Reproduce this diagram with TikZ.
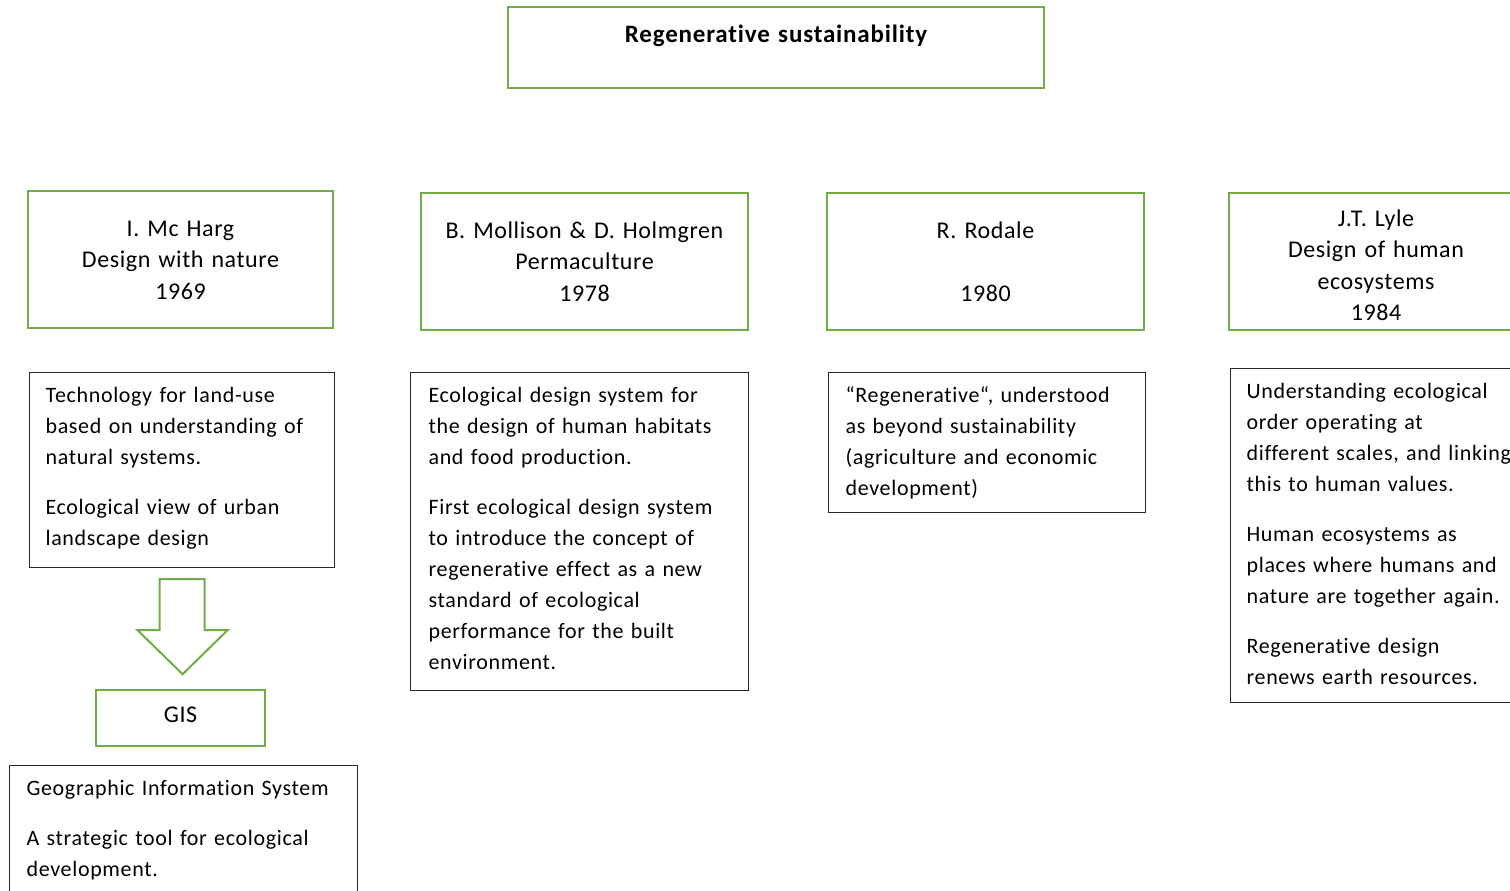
\documentclass[tikz,border=0pt]{standalone}
\usepackage{fontspec}
\setmainfont{Carlito}
\newfontfamily\bodyfont[LetterSpace=3.0, WordSpace=0.6, Ligatures=NoCommon]{Carlito}
\newfontfamily\headfont[LetterSpace=2.5, Ligatures=NoCommon]{Carlito}
\newfontfamily\titlefont[LetterSpace=3.3, Ligatures=NoCommon]{Carlito}
\usetikzlibrary{calc}
\definecolor{ogreen}{RGB}{112,173,71}
\definecolor{boxline}{RGB}{40,40,40}
\tikzset{
  base/.style={inner ysep=0pt},
  gbox/.style={base, draw=ogreen, line width=2.4pt, align=center, inner xsep=10pt,
    font=\headfont\fontsize{24pt}{31.5pt}\selectfont},
  dbox/.style={base, draw=boxline, line width=1.2pt, align=left, anchor=north west,
    font=\bodyfont\fontsize{22pt}{31pt}\selectfont},
  garrow/.style={draw=ogreen, line width=2pt, line join=miter},
}
\begin{document}
\begin{tikzpicture}[x=1pt, y=-1pt]
\useasboundingbox (0,0) rectangle (1510,891);
\clip (0,0) rectangle (1510,891);

% title
\node[gbox, text width=516pt, text height=36pt, text depth=45pt,
      font=\titlefont\fontsize{25pt}{31pt}\selectfont\bfseries] (top) at (776,47.5)
  {Regenerative sustainability};

% authors
\node[gbox, text width=285pt, text height=45pt, text depth=92pt] (h1) at (180.5,259.5)
  {I. Mc Harg\\Design with nature\\1969};
\node[gbox, text width=307pt, text height=45pt, text depth=92pt] (h2) at (584.5,261.5)
  {B. Mollison \& D. Holmgren\\Permaculture\\1978};
\node[gbox, text width=297pt, text height=45pt, text depth=92pt] (h3) at (985.5,261.5)
  {R. Rodale\\\mbox{}\\1980};
\node[gbox, text width=274pt, text height=33pt, text depth=104pt] (h4) at (1376,261.5)
  {J.T. Lyle\\Design of human\\ecosystems\\1984};

% descriptions
\node[dbox, inner xsep=16pt, text width=273pt, text height=30pt, text depth=165pt] (d1) at (29,372)
  {Technology for land-use\\based on understanding of\\natural systems.\\[19pt]Ecological view of urban\\landscape design};
\node[dbox, inner xsep=18pt, text width=302pt, text height=30pt, text depth=288pt] (d2) at (410,372)
  {Ecological design system for\\the design of human habitats\\and food production.\\[19pt]First ecological design system\\to introduce the concept of\\regenerative effect as a new\\standard of ecological\\performance for the built\\environment.};
\node[dbox, inner xsep=17pt, text width=283pt, text height=30pt, text depth=110pt] (d3) at (828,372)
  {“Regenerative“, understood\\as beyond sustainability\\(agriculture and economic\\development)};
\node[dbox, inner xsep=16pt, text width=275pt, text height=30pt, text depth=304pt] (d4) at (1230,368)
  {Understanding ecological\\order operating at\\different scales, and linking\\this to human values.\\[19pt]Human ecosystems as\\places where humans and\\nature are together again.\\[19pt]Regenerative design\\renews earth resources.};

% GIS branch
\node[gbox, text width=149pt, text height=32pt, text depth=24pt] (gis) at (180.5,718) {GIS};
\node[dbox, inner xsep=17pt, text width=314pt, text height=30pt, text depth=110pt] (d5) at (9,765)
  {Geographic Information System\\[19pt]A strategic tool for ecological\\development.};

% block arrow from the McHarg description down to GIS
\draw[garrow] ($(d1.south)+(-22.5,11)$) -- ++(45,0) -- ++(0,51) -- ++(23,0)
  -- ++(-45,44) -- ++(-45,-44) -- ++(22,0) -- cycle;
\end{tikzpicture}
\end{document}
